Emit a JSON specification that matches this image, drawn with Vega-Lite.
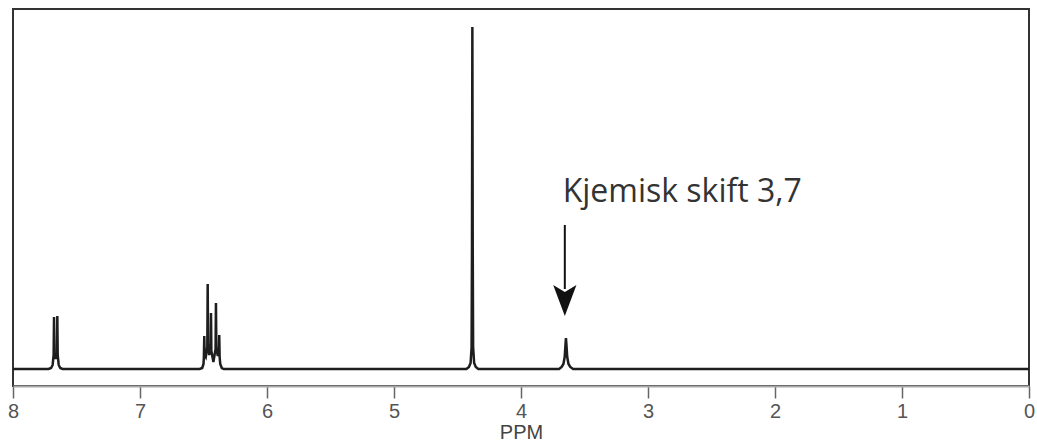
{
  "$schema": "https://vega.github.io/schema/vega-lite/v6.json",
  "autosize": "none",
  "width": 1016,
  "height": 377,
  "padding": {"left": 13, "top": 9, "right": 8, "bottom": 62},
  "background": "white",
  "config": {"view": {"stroke": "#333333", "strokeWidth": 2}},
  "datasets": {
    "spectrum": [
      {"ppm": 8.0, "I": 0},
      {"ppm": 7.72, "I": 0},
      {"ppm": 7.70, "I": 1},
      {"ppm": 7.688, "I": 4},
      {"ppm": 7.68, "I": 14},
      {"ppm": 7.677, "I": 52},
      {"ppm": 7.674, "I": 16},
      {"ppm": 7.664, "I": 10},
      {"ppm": 7.654, "I": 16},
      {"ppm": 7.651, "I": 53},
      {"ppm": 7.648, "I": 14},
      {"ppm": 7.64, "I": 4},
      {"ppm": 7.628, "I": 1},
      {"ppm": 7.61, "I": 0},
      {"ppm": 6.53, "I": 0},
      {"ppm": 6.51, "I": 1},
      {"ppm": 6.50, "I": 5},
      {"ppm": 6.497, "I": 12},
      {"ppm": 6.494, "I": 33},
      {"ppm": 6.491, "I": 14},
      {"ppm": 6.482, "I": 12},
      {"ppm": 6.47, "I": 22},
      {"ppm": 6.467, "I": 85},
      {"ppm": 6.464, "I": 24},
      {"ppm": 6.455, "I": 14},
      {"ppm": 6.444, "I": 20},
      {"ppm": 6.441, "I": 56},
      {"ppm": 6.438, "I": 18},
      {"ppm": 6.422, "I": 7},
      {"ppm": 6.405, "I": 20},
      {"ppm": 6.402, "I": 66},
      {"ppm": 6.399, "I": 22},
      {"ppm": 6.389, "I": 14},
      {"ppm": 6.379, "I": 14},
      {"ppm": 6.376, "I": 34},
      {"ppm": 6.373, "I": 12},
      {"ppm": 6.368, "I": 5},
      {"ppm": 6.356, "I": 1},
      {"ppm": 6.34, "I": 0},
      {"ppm": 4.43, "I": 0},
      {"ppm": 4.41, "I": 2},
      {"ppm": 4.397, "I": 6},
      {"ppm": 4.389, "I": 22},
      {"ppm": 4.386, "I": 120},
      {"ppm": 4.383, "I": 342},
      {"ppm": 4.38, "I": 120},
      {"ppm": 4.377, "I": 22},
      {"ppm": 4.369, "I": 6},
      {"ppm": 4.356, "I": 2},
      {"ppm": 4.336, "I": 0},
      {"ppm": 3.70, "I": 0},
      {"ppm": 3.68, "I": 2},
      {"ppm": 3.666, "I": 5},
      {"ppm": 3.656, "I": 12},
      {"ppm": 3.650, "I": 24},
      {"ppm": 3.646, "I": 31},
      {"ppm": 3.642, "I": 24},
      {"ppm": 3.636, "I": 12},
      {"ppm": 3.626, "I": 5},
      {"ppm": 3.612, "I": 2},
      {"ppm": 3.59, "I": 0},
      {"ppm": 0.0, "I": 0}
    ],
    "shaft": [{"ppm": 3.655, "I": 144, "I2": 80}],
    "head": [{"ppm": 3.655, "I": 68.5}],
    "label": [{"ppm": 3.672, "I": 167, "text": "Kjemisk skift 3,7"}]
  },
  "layer": [
    {
      "data": {"name": "spectrum"},
      "mark": {"type": "line", "color": "#1e1e1e", "strokeWidth": 2.5, "interpolate": "linear"},
      "encoding": {
        "x": {
          "field": "ppm",
          "type": "quantitative",
          "scale": {"domain": [0, 8], "reverse": true, "nice": false, "zero": false},
          "axis": {
            "title": "PPM",
            "values": [0, 0.5, 1, 1.5, 2, 2.5, 3, 3.5, 4, 4.5, 5, 5.5, 6, 6.5, 7, 7.5, 8],
            "format": "d",
            "labelExpr": "datum.value % 1 === 0 ? datum.label : ''",
            "tickSize": {"condition": {"test": "datum.value % 1 === 0", "value": 12}, "value": 6},
            "tickColor": "#666666",
            "tickWidth": 1.5,
            "domainColor": "#a8a8a8",
            "domainWidth": 2,
            "labelFont": "Liberation Sans",
            "labelFontSize": 20,
            "labelColor": "#555555",
            "labelPadding": 3,
            "labelFlush": false,
            "labelOverlap": false,
            "grid": false,
            "titleFont": "Liberation Sans",
            "titleFontSize": 20,
            "titleFontWeight": "normal",
            "titleColor": "#444444",
            "titlePadding": 1
          }
        },
        "y": {
          "field": "I",
          "type": "quantitative",
          "scale": {"domain": [-17, 360], "nice": false, "zero": false},
          "axis": null
        },
        "order": {"field": "ppm", "type": "quantitative", "sort": "descending"}
      }
    },
    {
      "data": {"name": "shaft"},
      "mark": {"type": "rule", "color": "#111111", "strokeWidth": 2},
      "encoding": {
        "x": {"field": "ppm", "type": "quantitative"},
        "y": {"field": "I", "type": "quantitative"},
        "y2": {"field": "I2"}
      }
    },
    {
      "data": {"name": "head"},
      "mark": {"type": "point", "shape": "M-0.75,-1 L0,-0.55 L0.75,-1 L0,1 Z", "size": 961, "filled": true, "color": "#111111", "opacity": 1},
      "encoding": {
        "x": {"field": "ppm", "type": "quantitative"},
        "y": {"field": "I", "type": "quantitative"}
      }
    },
    {
      "data": {"name": "label"},
      "mark": {"type": "text", "align": "left", "baseline": "alphabetic", "font": "Open Sans", "fontSize": 32, "color": "#333333"},
      "encoding": {
        "x": {"field": "ppm", "type": "quantitative"},
        "y": {"field": "I", "type": "quantitative"},
        "text": {"field": "text"}
      }
    }
  ]
}
